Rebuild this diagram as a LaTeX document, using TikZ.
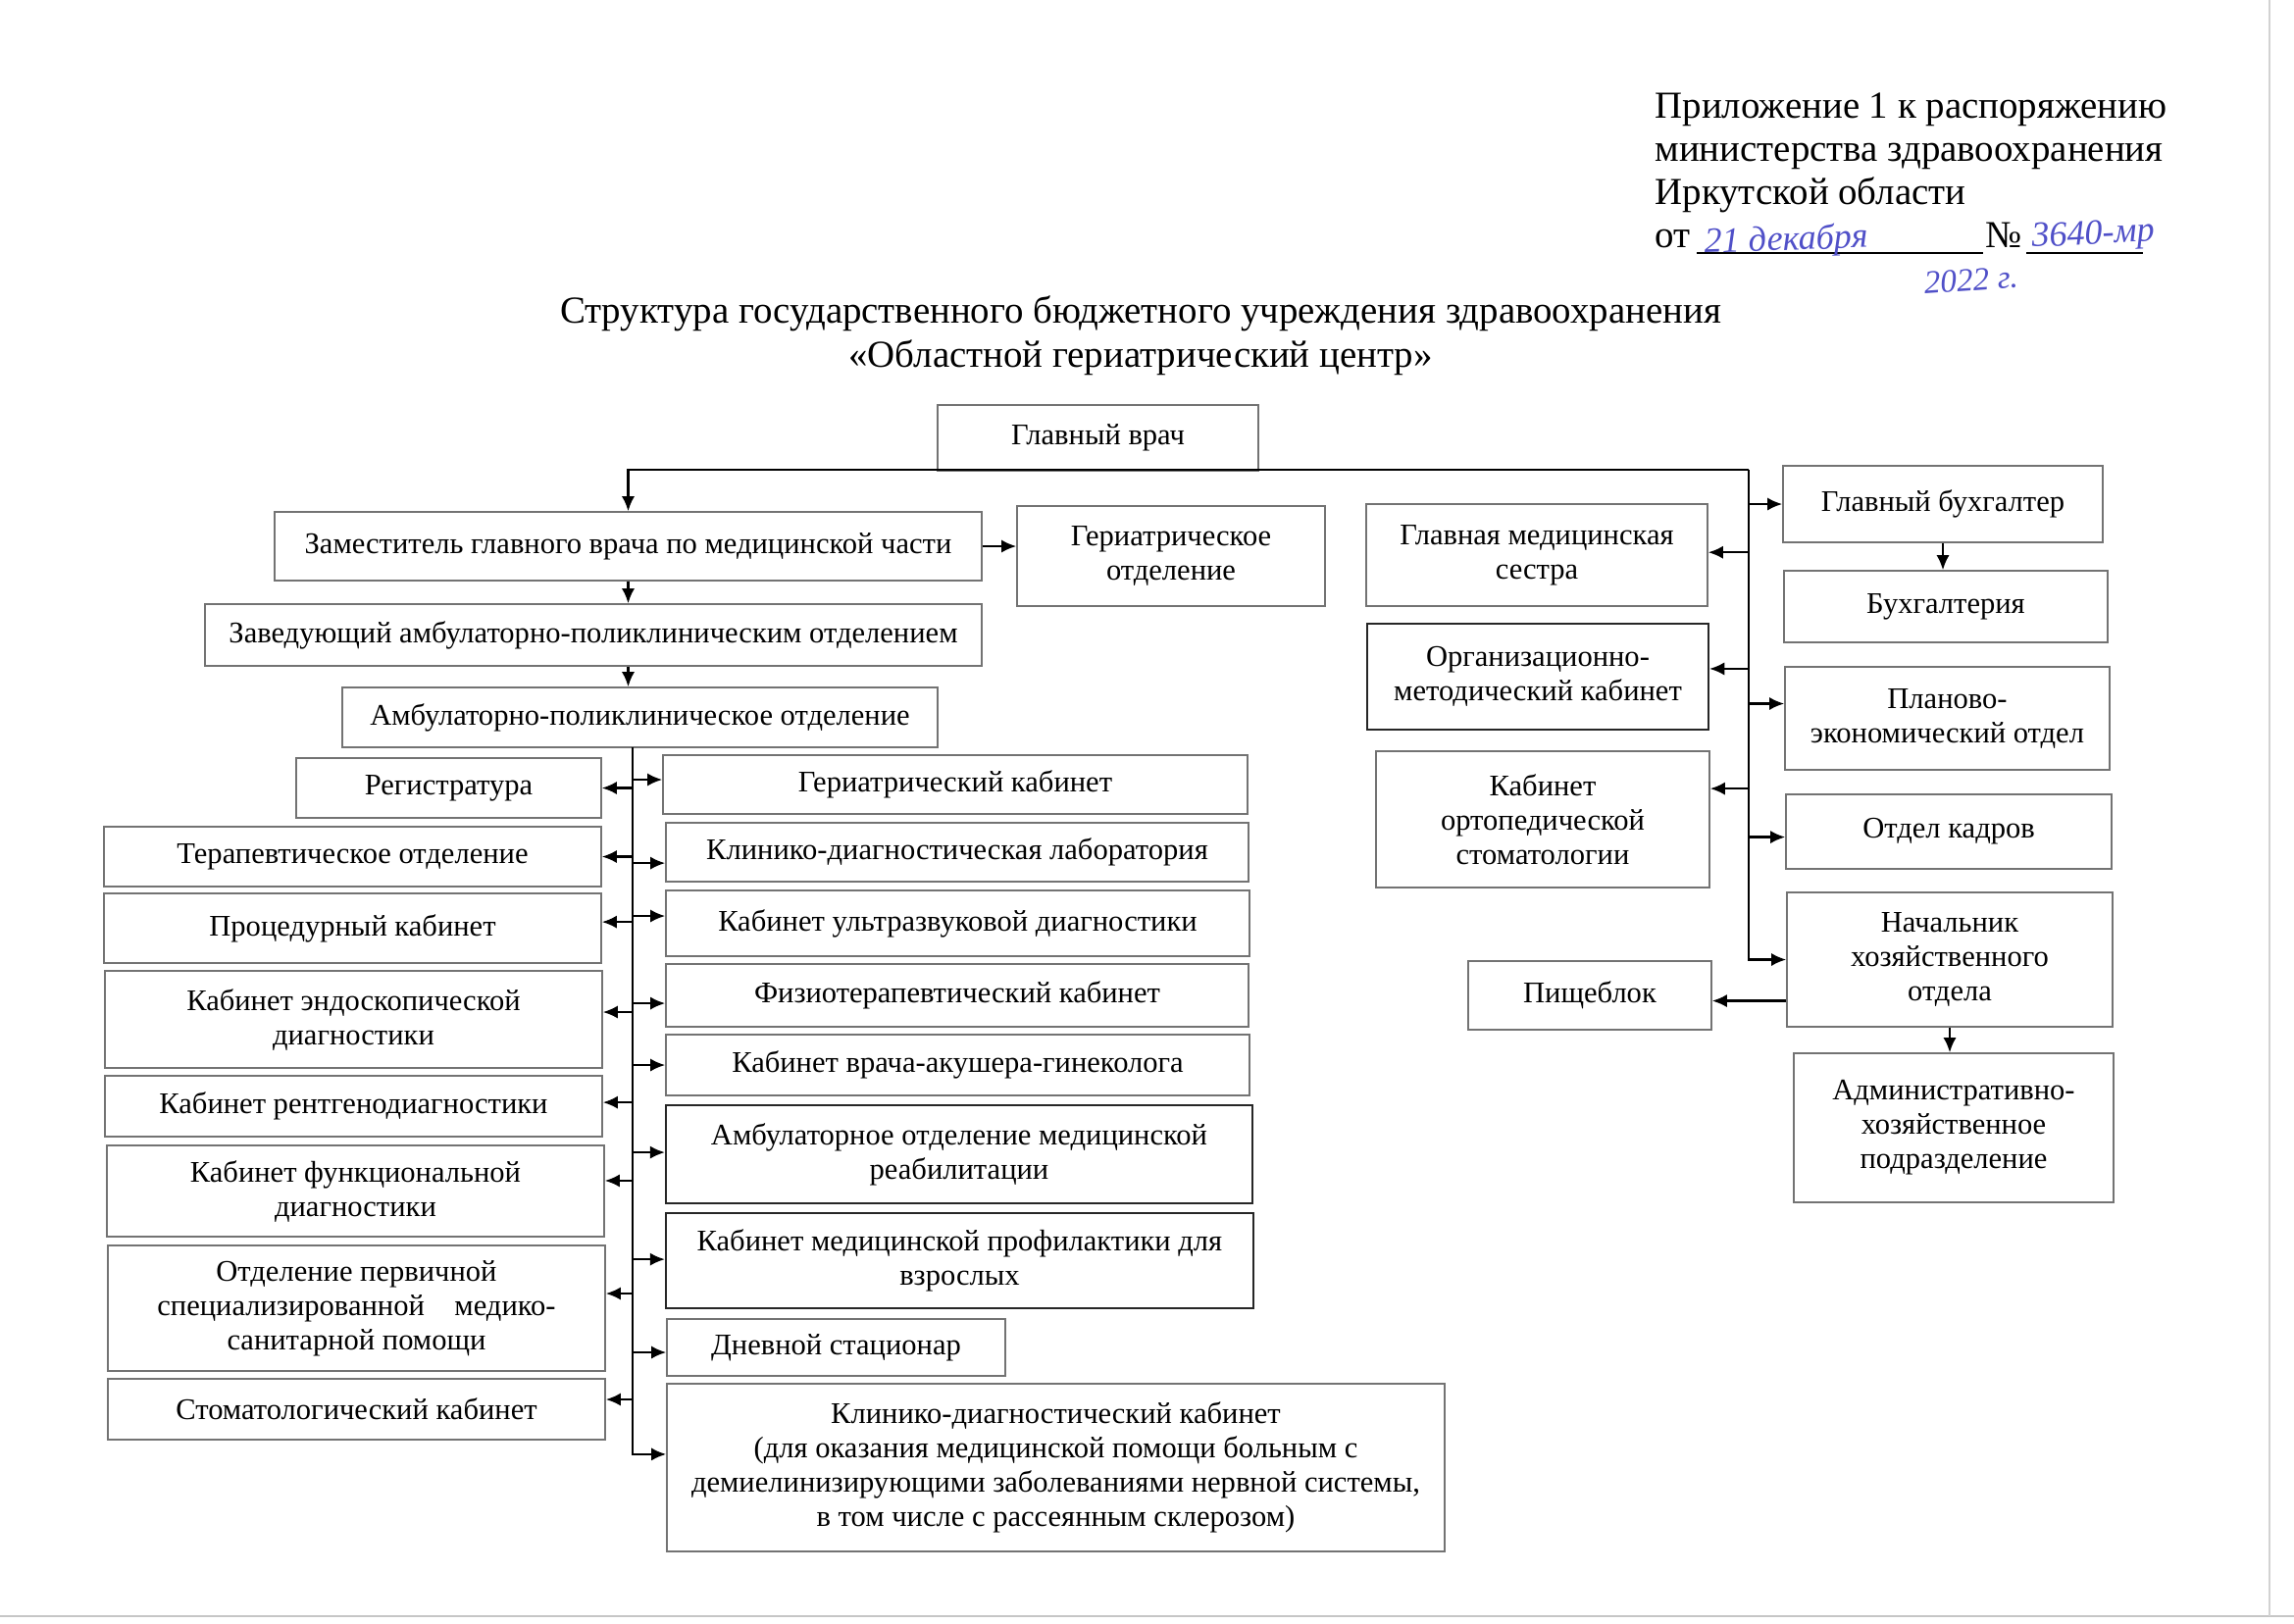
\documentclass[tikz,border=0pt]{standalone}
\usepackage{fontspec}
\setmainfont{Liberation Serif}
\usetikzlibrary{arrows.meta}
\definecolor{ink}{RGB}{80,80,200}
\definecolor{frame}{gray}{0.45}
\newcommand\bx[7][]{\node[box,#1,minimum width={(#5-#3)*0.36pt},minimum height={(#6-#4)*0.36pt}] (#2) at ({(#3+#5)/2},{(#4+#6)/2}) {#7};}
\newcommand\harr[3]{\path ([yshift=#3]#2) coordinate (tmp); \draw[arr] (#1 |- tmp) -- (tmp);}
\begin{document}
\begin{tikzpicture}[x=0.36pt,y=-0.36pt,
  box/.style={draw=frame,line width=0.5pt,inner sep=0pt,align=center,font=\fontsize{11}{12.6}\selectfont},
  dark/.style={draw=black!85,line width=0.7pt},
  arr/.style={-{Latex[length=5.5pt,width=4.8pt]},line width=0.9pt,black},
  hdr/.style={anchor=base west,inner sep=0pt,font=\fontsize{14}{16}\selectfont},
  hand/.style={inner sep=0pt,text=ink,font=\fontsize{13}{15}\selectfont\itshape}]
\useasboundingbox (0,0) rectangle (2339,1655);
% scan edges
\draw[gray!45,line width=1pt] (0,1648) -- (2339,1648);
\draw[gray!35,line width=1pt] (2314,0) -- (2314,1648);
% header
\node[hdr] (h1) at (1687,120) {Приложение 1 к распоряжению};
\node[hdr] (h2) at (1687,164) {министерства здравоохранения};
\node[hdr] (h3) at (1687,208) {Иркутской области};
\node[hdr] (h4) at (1687,252) {от};
\node[hdr] (hno) at (2024,252) {№};
\coordinate (u1a) at (1730,258); \coordinate (u1b) at (2022,258);
\coordinate (u2a) at (2066,258); \coordinate (u2b) at (2185,258);
\draw[line width=0.6pt] (u1a) -- (u1b);
\draw[line width=0.6pt] (u2a) -- (u2b);
\node[hand,anchor=base west,rotate=2] (hd) at (1738,258) {21 декабря};
\node[hand,anchor=base west,rotate=4,font=\fontsize{12}{14}\selectfont\itshape] (hy) at (1962,300) {2022 г.};
\node[hand,anchor=base west,rotate=3] (hn) at (2072,252) {3640-мр};
% title
\node[align=center,font=\fontsize{14}{16.4}\selectfont,inner sep=0pt] (title) at (1163,342)
  {Структура государственного бюджетного учреждения здравоохранения\\«Областной гериатрический центр»};
% boxes
\bx{gv}{956}{413}{1283}{480}{Главный врач}
\bx{zam}{280}{522}{1001}{592}{Заместитель главного врача по медицинской части}
\bx{go}{1037}{516}{1351}{618}{Гериатрическое\\отделение}
\bx{zav}{209}{616}{1001}{679}{Заведующий амбулаторно-поликлиническим отделением}
\bx{apo}{349}{701}{956}{762}{Амбулаторно-поликлиническое отделение}
% left column
\bx{reg}{302}{773}{613}{834}{Регистратура}
\bx{ter}{106}{843}{613}{904}{Терапевтическое отделение}
\bx{proc}{106}{911}{613}{982}{Процедурный кабинет}
\bx{endo}{107}{990}{614}{1089}{Кабинет эндоскопической\\диагностики}
\bx{rent}{107}{1097}{614}{1159}{Кабинет рентгенодиагностики}
\bx{func}{109}{1168}{616}{1261}{Кабинет функциональной\\диагностики}
\bx{perv}{110}{1270}{617}{1398}{Отделение первичной\\специализированной\quad медико-\\санитарной помощи}
\bx{stom}{110}{1406}{617}{1468}{Стоматологический кабинет}
% middle column
\bx{gk}{676}{770}{1272}{830}{Гериатрический кабинет}
\bx{kdl}{679}{839}{1273}{899}{Клинико-диагностическая лаборатория}
\bx{uzi}{679}{908}{1274}{975}{Кабинет ультразвуковой диагностики}
\bx{fiz}{679}{983}{1273}{1047}{Физиотерапевтический кабинет}
\bx{aku}{679}{1055}{1274}{1117}{Кабинет врача-акушера-гинеколога}
\bx[dark]{reab}{679}{1127}{1277}{1227}{Амбулаторное отделение медицинской\\реабилитации}
\bx[dark]{prof}{679}{1237}{1278}{1334}{Кабинет медицинской профилактики для\\взрослых}
\bx{dnev}{680}{1345}{1025}{1403}{Дневной стационар}
\bx{kdk}{680}{1411}{1473}{1582}{Клинико-диагностический кабинет\\(для оказания медицинской помощи больным с\\демиелинизирующими заболеваниями нервной системы,\\в том числе с рассеянным склерозом)}
% right part
\bx{gms}{1393}{514}{1741}{618}{Главная медицинская\\сестра}
\bx[dark]{orgm}{1394}{636}{1742}{744}{Организационно-\\методический кабинет}
\bx{orto}{1403}{766}{1743}{905}{Кабинет\\ортопедической\\стоматологии}
\bx{pish}{1497}{980}{1745}{1050}{Пищеблок}
\bx{gbuh}{1818}{475}{2144}{553}{Главный бухгалтер}
\bx{buh}{1819}{582}{2149}{655}{Бухгалтерия}
\bx{plan}{1820}{680}{2151}{785}{Планово-\\экономический отдел}
\bx{kadr}{1821}{810}{2153}{886}{Отдел кадров}
\bx{nach}{1822}{910}{2154}{1047}{Начальник\\хозяйственного\\отдела}
\bx{adm}{1829}{1074}{2155}{1226}{Административно-\\хозяйственное\\подразделение}
% top connectors
\coordinate (rt) at (1783,479);
\draw[arr] (rt) -- (rt -| zam.north) -- (zam.north);
\draw[arr] (rt) -- (rt |- nach.west) -- (nach.west);
\draw[arr] (zam.south) -- (zam.south |- zav.north);
\draw[arr] (zam.south |- zav.south) -- (zam.south |- apo.north);
\draw[arr] (zam.east) -- (zam.east -| go.west);
% left trunk
\coordinate (lt) at (645,762);
\path ([yshift=4.9pt]kdk.west) coordinate (kk);
\draw[arr] (lt) -- (lt |- kk) -- (kk);
\harr{lt}{reg.east}{0pt}
\harr{lt}{ter.east}{0pt}
\harr{lt}{proc.east}{2.3pt}
\harr{lt}{endo.east}{2.7pt}
\harr{lt}{rent.east}{1.4pt}
\harr{lt}{func.east}{3.8pt}
\harr{lt}{perv.east}{5.4pt}
\harr{lt}{stom.east}{3.6pt}
\harr{lt}{gk.west}{1.8pt}
\harr{lt}{kdl.west}{-4pt}
\harr{lt}{uzi.west}{2.7pt}
\harr{lt}{fiz.west}{-2.9pt}
\harr{lt}{aku.west}{0pt}
\harr{lt}{reab.west}{0.7pt}
\harr{lt}{prof.west}{0.5pt}
\harr{lt}{dnev.west}{-1.8pt}
% right trunk arrows
\harr{rt}{gbuh.west}{0pt}
\harr{rt}{gms.east}{1pt}
\harr{rt}{orgm.east}{2.9pt}
\harr{rt}{plan.west}{5.4pt}
\harr{rt}{orto.east}{11.3pt}
\harr{rt}{kadr.west}{-2pt}
\draw[arr] (gbuh.south) -- (gbuh.south |- buh.north);
\draw[arr] (nach.south) -- (nach.south |- adm.north);
\path (pish.east) coordinate (pe);
\draw[arr] ([yshift=-2pt]nach.west |- pe) -- ([yshift=-2pt]pe);
\end{tikzpicture}
\end{document}
